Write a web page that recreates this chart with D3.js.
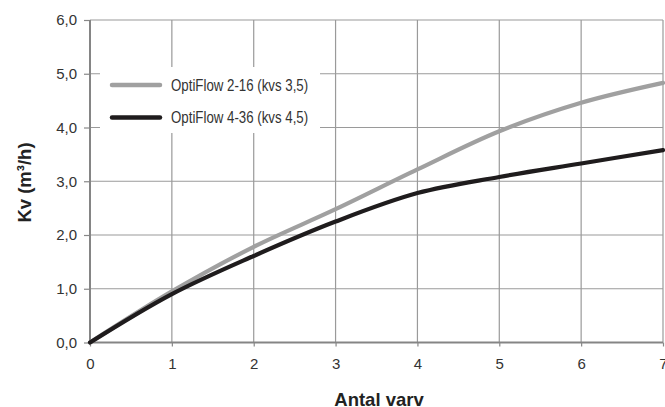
<!DOCTYPE html>
<html>
<head>
<meta charset="utf-8">
<script src="https://cdn.jsdelivr.net/npm/d3@7"></script>
<style>
  body { margin: 0; background: #fff; }
  svg { display: block; }
  .tick text { font-family: "Liberation Sans", Arial, sans-serif; font-size: 15px; fill: #333; }
  .legend text { font-family: "Liberation Sans", Arial, sans-serif; font-size: 16px; fill: #333; }
  .title { font-family: "Liberation Sans", Arial, sans-serif; font-weight: bold; font-size: 18.5px; fill: #222; }
</style>
</head>
<body>
<div id="chart"></div>
<script>
const xValues = [0, 1, 2, 3, 4, 5, 6, 7]
const optiFlow216 = [0, 0.95, 1.78, 2.48, 3.22, 3.93, 4.46, 4.83]
const optiFlow436 = [0, 0.9, 1.61, 2.25, 2.78, 3.08, 3.33, 3.58]
const seriesNames = ['OptiFlow 2-16 (kvs 3,5)', 'OptiFlow 4-36 (kvs 4,5)']
const yTicks = [0, 1, 2, 3, 4, 5, 6]
const xTicks = [0, 1, 2, 3, 4, 5, 6, 7]

const margin = { top: 20, right: 2, bottom: 64.5, left: 90 }
const width = 665 - margin.left - margin.right
const height = 407 - margin.top - margin.bottom

const root = d3.select('#chart')
  .append('svg')
  .attr('width', 665)
  .attr('height', 407)

const svg = root.append('g')
  .attr('transform', 'translate(' + margin.left + ',' + margin.top + ')')

const xScale = d3.scaleLinear().domain([0, 7]).range([0, width])
const yScale = d3.scaleLinear().domain([0, 6]).range([height, 0])

// grid
svg.append('g')
  .selectAll('line')
  .data(xTicks.slice(1))
  .enter()
  .append('line')
  .attr('x1', d => xScale(d))
  .attr('x2', d => xScale(d))
  .attr('y1', 0)
  .attr('y2', height)
  .attr('stroke', '#9a9a9a')
  .attr('stroke-width', 1.2)

svg.append('g')
  .selectAll('line')
  .data(yTicks.slice(1))
  .enter()
  .append('line')
  .attr('x1', 0)
  .attr('x2', width)
  .attr('y1', d => yScale(d))
  .attr('y2', d => yScale(d))
  .attr('stroke', '#9a9a9a')
  .attr('stroke-width', 1.2)

// axes
const xAxis = d3.axisBottom(xScale)
  .tickValues(xTicks)
  .tickSize(4)
  .tickPadding(12)
  .tickFormat(d3.format('d'))

const yAxis = d3.axisLeft(yScale)
  .tickValues(yTicks)
  .tickSize(6)
  .tickPadding(7)
  .tickFormat(d => d.toFixed(1).replace('.', ','))

const gx = svg.append('g')
  .attr('class', 'axis x-axis')
  .attr('transform', 'translate(0,' + height + ')')
  .call(xAxis)
gx.select('.domain').remove()
gx.selectAll('.tick line').attr('stroke', '#888').attr('stroke-width', 1.2)

const gy = svg.append('g')
  .attr('class', 'axis y-axis')
  .call(yAxis)
gy.select('.domain').remove()
gy.selectAll('.tick line').attr('stroke', '#888').attr('stroke-width', 1.2)

svg.append('line')
  .attr('x1', 0).attr('x2', width)
  .attr('y1', height).attr('y2', height)
  .attr('stroke', '#858585').attr('stroke-width', 2)
svg.append('line')
  .attr('x1', 0).attr('x2', 0)
  .attr('y1', 0).attr('y2', height)
  .attr('stroke', '#858585').attr('stroke-width', 2)

// legend box covers grid
const legend = svg.append('g').attr('class', 'legend')
legend.append('rect')
  .attr('x', 100 - margin.left)
  .attr('y', 67 - margin.top)
  .attr('width', 220)
  .attr('height', 66)
  .attr('fill', '#fff')

// curves
const line = d3.line()
  .x((d, i) => xScale(xValues[i]))
  .y(d => yScale(d))
  .curve(d3.curveCatmullRom.alpha(0.5))

svg.append('path')
  .datum(optiFlow216)
  .attr('d', line)
  .attr('fill', 'none')
  .attr('stroke', '#a0a0a0')
  .attr('stroke-width', 4.2)
  .attr('stroke-linecap', 'round')

svg.append('path')
  .datum(optiFlow436)
  .attr('d', line)
  .attr('fill', 'none')
  .attr('stroke', '#1f1c1d')
  .attr('stroke-width', 4.2)
  .attr('stroke-linecap', 'round')

const legendColors = ['#a0a0a0', '#1f1c1d']
const legendY = [85, 117.5]
seriesNames.forEach((name, i) => {
  legend.append('line')
    .attr('x1', 112 - margin.left)
    .attr('x2', 160 - margin.left)
    .attr('y1', legendY[i] - margin.top)
    .attr('y2', legendY[i] - margin.top)
    .attr('stroke', legendColors[i])
    .attr('stroke-width', 4.5)
    .attr('stroke-linecap', 'round')
  // narrow face is not installed, so squeeze the regular one
  legend.append('text')
    .attr('transform', 'translate(' + (171 - margin.left) + ',' + (legendY[i] - margin.top) + ') scale(0.83,1)')
    .attr('dy', '0.36em')
    .text(name)
})

// titles
root.append('text')
  .attr('class', 'title')
  .attr('transform', 'translate(31,182.5) rotate(-90)')
  .attr('text-anchor', 'middle')
  .text('Kv (m³/h)')

root.append('text')
  .attr('class', 'title')
  .attr('x', 379)
  .attr('y', 406)
  .attr('text-anchor', 'middle')
  .text('Antal varv')
</script>
</body>
</html>
